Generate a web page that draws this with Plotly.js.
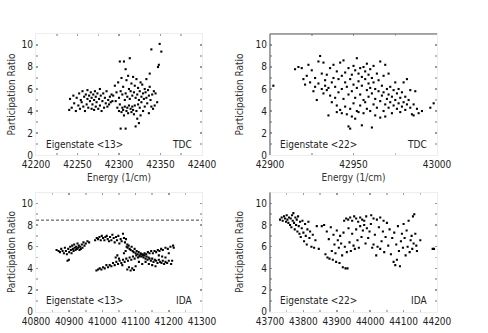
<!DOCTYPE html>
<html>
<head>
<meta charset="utf-8">
<script src="https://cdn.plot.ly/plotly-3.0.1.min.js"></script>
<style>
  html, body { margin: 0; padding: 0; background: #fff; }
  #gd { width: 488px; height: 333px; }
</style>
</head>
<body>
<div id="gd"></div>
<script>
"use strict";

/* data: [energy (1/cm), participation ratio] */
var tdcState13 = [
  [42240,4.1],[42241,5.1],[42243,4.3],[42245,5.4],[42246,4.7],[42248,4.0],[42249,5.2],[42251,4.5],
  [42252,5.6],[42253,4.2],[42254,5.0],[42255,4.8],[42256,5.8],[42257,4.4],[42258,5.3],[42259,4.0],
  [42260,5.5],[42261,4.6],[42262,5.9],[42262,5.1],[42263,4.3],[42264,5.4],[42265,4.9],[42266,5.7],
  [42267,4.2],[42267,5.2],[42268,4.6],[42269,5.5],[42270,4.1],[42270,5.0],[42271,5.8],[42272,4.4],
  [42272,5.3],[42273,4.8],[42274,5.6],[42275,4.2],[42276,5.1],[42277,4.5],[42277,6.0],[42278,5.4],
  [42279,4.0],[42280,4.9],[42281,5.6],[42282,4.3],[42283,5.2],[42284,4.7],[42285,5.8],[42286,4.4],
  [42287,5.0],[42288,4.6],[42289,5.3],[42290,4.8],[42291,5.5],[42292,4.9],
  [42293,5.4],[42295,6.3],[42296,4.9],[42297,5.7],[42298,4.3],[42299,6.6],[42300,4.0],[42300,5.2],
  [42301,8.5],[42301,4.6],[42302,2.4],[42302,5.8],[42303,3.9],[42303,7.0],[42304,4.3],[42304,5.5],
  [42305,6.2],[42305,4.1],[42306,3.6],[42306,8.5],[42307,5.0],[42307,4.4],[42308,7.8],[42308,2.4],
  [42308,5.6],[42309,4.0],[42309,6.8],[42310,4.3],[42310,5.3],[42311,3.8],[42311,7.2],[42312,4.5],
  [42312,6.0],[42313,5.1],[42313,8.8],[42314,4.2],[42314,5.8],[42315,3.9],[42315,6.5],[42316,4.4],
  [42316,5.4],[42317,7.1],[42317,4.1],[42318,5.7],[42318,3.7],[42319,6.3],[42319,4.5],[42320,5.2],
  [42320,2.6],[42321,4.0],[42321,6.9],[42322,5.5],[42322,3.3],[42323,4.6],[42323,6.1],[42324,5.0],
  [42324,2.9],[42325,4.3],[42325,5.8],[42326,6.6],[42326,3.6],[42327,5.3],[42327,4.8],[42328,6.4],
  [42329,5.6],[42329,4.0],[42330,5.1],[42331,6.0],[42331,4.4],[42332,5.7],[42333,6.9],[42333,5.2],
  [42334,4.7],[42335,5.9],[42336,5.4],[42336,3.8],[42337,6.2],[42337,7.4],[42338,5.0],[42339,4.4],
  [42339,9.6],[42340,5.5],[42341,4.2],[42342,5.8],[42343,4.5],[42344,5.6],[42346,4.8],[42347,8.0],
  [42349,10.1],[42351,9.4],[42348,8.2]
];

var tdcState22 = [
  [42902,6.3],[42915,7.8],[42917,8.0],[42919,7.9],[42920,6.9],[42921,6.4],[42922,7.2],[42923,8.2],
  [42924,6.6],[42925,7.7],[42926,5.8],[42927,6.2],[42927,7.0],[42928,5.0],[42929,8.5],[42929,6.5],
  [42930,9.0],[42931,7.4],[42931,6.0],[42932,8.4],[42932,5.6],[42933,6.8],[42933,6.3],[42934,7.3],
  [42934,5.9],[42935,3.6],[42935,6.1],[42936,7.9],[42936,5.4],[42937,6.6],[42937,4.8],[42938,8.2],
  [42938,7.0],[42939,5.2],[42939,6.2],[42940,3.9],[42940,7.6],[42940,4.5],[42941,6.9],[42941,5.7],
  [42942,8.4],[42942,4.1],[42943,7.2],[42943,6.0],[42943,3.8],[42944,8.6],[42944,5.1],[42945,6.6],
  [42945,4.4],[42945,7.5],[42946,3.7],[42946,6.2],[42947,7.9],[42947,5.5],[42947,2.6],[42948,4.2],
  [42948,6.9],[42948,2.4],[42949,7.3],[42949,3.5],[42949,5.8],[42950,8.1],[42950,4.7],[42950,6.4],
  [42951,3.3],[42951,7.7],[42951,5.2],[42952,8.8],[42952,6.1],[42952,4.0],[42953,7.4],[42953,3.9],
  [42953,6.7],[42954,5.5],[42954,7.9],[42954,4.5],[42955,2.7],[42955,6.3],[42955,7.1],[42956,5.0],
  [42956,8.0],[42956,3.8],[42957,6.9],[42957,4.8],[42957,7.6],[42958,5.9],[42958,4.2],[42958,8.3],
  [42959,6.5],[42959,5.3],[42959,7.3],[42960,4.0],[42960,7.8],[42960,6.1],[42961,2.5],[42961,5.6],
  [42961,7.0],[42962,4.6],[42962,6.6],[42962,8.1],[42963,5.1],[42963,3.6],[42963,6.0],[42964,7.4],
  [42964,4.3],[42965,5.8],[42965,6.8],[42966,8.5],[42966,4.9],[42966,3.4],[42967,5.4],[42967,6.3],
  [42968,4.0],[42968,7.2],[42968,5.7],[42969,3.5],[42969,8.2],[42969,4.6],[42970,6.0],[42970,5.1],
  [42971,4.3],[42971,7.4],[42971,5.5],[42972,4.8],[42972,6.2],[42973,3.8],[42973,5.3],[42974,4.5],
  [42974,5.9],[42975,5.0],[42975,6.6],[42976,4.2],[42976,5.6],[42977,4.7],[42977,6.0],[42978,5.2],
  [42978,3.9],[42979,4.4],[42979,5.7],[42980,6.6],[42980,4.8],[42981,5.3],[42981,4.1],[42982,6.9],
  [42982,4.6],[42983,5.0],[42984,4.3],[42984,5.9],[42985,3.7],[42986,4.6],[42986,3.6],[42987,5.8],
  [42988,4.2],[42989,3.8],[42991,4.0],[42996,4.3],[42998,4.7]
];

var idaState13 = [
  [40862,5.7],[40868,5.6],[40872,5.5],[40876,5.8],[40880,5.6],[40884,5.4],[40887,5.9],[40890,5.6],
  [40893,5.3],[40895,4.7],[40897,5.8],[40899,4.8],[40900,5.5],[40903,6.0],[40905,5.7],[40907,5.4],
  [40909,6.1],[40911,5.8],[40913,5.6],[40915,6.2],[40917,5.9],[40919,5.7],[40921,6.0],[40923,5.8],
  [40925,6.3],[40927,5.9],[40929,6.1],[40931,5.7],[40933,6.0],[40935,5.8],[40938,6.2],[40940,5.9],
  [40943,6.4],[40946,6.1],[40950,6.3],[40955,6.5],[40960,6.4],
  [40978,6.6],[40983,6.8],[40987,6.7],[40991,6.9],[40995,6.6],[40998,7.0],[41002,6.8],[41006,6.6],
  [41009,6.9],[41013,7.0],[41016,6.7],[41020,6.5],[41023,6.9],[41027,6.6],[41030,7.1],[41034,6.8],
  [41037,6.4],[41041,6.9],[41044,6.6],[41048,7.0],[41051,6.3],[41055,6.7],[41058,6.5],[41062,7.2],
  [41065,6.8],[41068,6.4],[41071,6.7],[41075,6.2],
  [41073,6.0],[41076,5.9],[41079,6.1],[41082,5.8],[41085,5.7],[41088,6.0],[41091,5.6],[41094,5.5],
  [41097,5.8],[41100,5.4],[41103,5.6],[41106,5.3],[41109,5.5],[41112,5.2],[41115,5.4],[41118,5.1],
  [41121,5.3],[41124,5.0],[41127,5.2],[41130,4.9],[41133,5.1],[41136,4.8],[41139,5.0],[41142,4.9],
  [41146,4.7],[41150,4.9],[41154,4.6],[41158,4.8],[41162,4.7],[41166,4.5],[41170,4.8],[41174,4.6],
  [41178,4.5],[41182,4.7],[41186,4.4],[41190,4.6],[41195,4.5],[41200,4.7],[41207,4.4],
  [40982,3.8],[40987,3.9],[40992,4.0],[40997,3.9],[41002,4.1],[41007,4.0],[41012,4.3],[41017,4.1],
  [41022,4.3],[41027,4.2],[41032,4.5],[41037,4.3],[41042,4.6],[41047,4.4],[41052,4.7],[41057,4.5],
  [41062,4.8],[41067,4.6],[41072,4.9],[41077,4.7],[41082,5.0],[41087,4.8],[41092,5.1],[41097,4.9],
  [41102,5.2],[41107,5.0],[41112,5.1],[41117,5.3],[41122,5.2],[41127,5.4],[41132,5.3],[41137,5.5],
  [41142,5.4],[41147,5.6],[41152,5.4],[41157,5.6],[41162,5.5],[41167,5.7],[41172,5.6],[41177,5.8],
  [41182,5.7],[41190,5.9],[41197,5.8],[41205,6.0],[41213,6.1],
  [41075,3.9],[41080,4.1],[41085,3.8],[41090,4.0],[41095,3.85],[41100,4.2],[41060,4.3],[41050,4.9],
  [41045,5.2],[41040,5.0],[41065,5.4],[41070,5.6],[41110,4.6],[41120,4.4],[41130,4.6],[41140,4.4],
  [41150,4.3],[41160,4.2],[41170,5.2],[41180,5.1],[41190,5.0],[41200,5.4],[41210,4.7],[41215,5.9]
];

var idaState22 = [
  [43730,8.5],[43735,8.7],[43738,8.4],[43742,8.8],[43745,8.6],[43748,8.3],[43750,8.9],[43752,8.5],
  [43755,8.2],[43757,8.7],[43760,8.0],[43762,8.6],[43764,7.8],[43766,8.9],[43768,8.4],[43770,9.1],
  [43772,8.2],[43774,7.6],[43776,8.7],[43778,8.0],[43780,8.5],[43782,7.4],[43784,8.8],[43786,7.9],
  [43788,7.2],[43790,8.3],[43792,6.9],[43795,7.7],[43797,8.4],[43800,7.3],[43802,6.5],[43805,8.1],
  [43807,7.0],[43810,6.2],[43812,7.6],[43815,8.3],[43818,6.8],[43820,7.4],[43824,6.0],[43828,7.1],
  [43832,5.9],[43836,6.6],[43840,7.9],[43846,5.8],
  [43922,8.4],[43928,8.6],[43934,8.5],[43940,8.7],[43946,8.4],[43952,8.8],[43958,8.6],[43964,8.3],
  [43970,8.7],[43976,8.5],[43982,8.4],[43988,8.8],[44003,8.9],[44010,8.6],[44020,8.5],[44030,8.7],
  [44040,8.4],
  [43855,7.9],[43862,8.0],[43866,5.3],[43870,7.4],[43872,5.0],[43876,6.7],[43878,4.9],[43882,7.8],
  [43885,5.6],[43888,4.8],[43890,7.1],[43893,6.2],[43896,5.4],[43898,4.6],[43900,7.5],[43903,6.6],
  [43906,5.9],[43908,4.5],[43910,7.0],[43913,6.3],[43916,5.2],[43918,4.1],[43920,7.3],[43924,6.0],
  [43926,4.0],[43930,5.5],[43932,4.0],[43935,7.7],[43938,6.4],[43942,5.6],[43946,7.2],[43950,6.1],
  [43954,5.8],[43958,7.6],[43962,6.6],[43966,5.9],[43970,7.9],[43974,6.9],[43978,7.5],[43982,8.0],
  [43986,6.3],[43990,7.7],[43994,6.8],[43998,7.4],[44002,8.1],[44006,5.9],[44010,6.2],[44014,7.1],
  [44018,5.2],[44022,6.0],[44026,7.8],[44030,5.8],[44034,6.5],[44038,7.4],[44042,5.5],[44046,6.9],
  [44050,8.2],[44054,6.1],[44058,7.6],[44062,5.3],[44066,6.8],[44070,4.6],[44072,7.3],[44075,4.3],
  [44078,6.2],[44080,4.8],[44083,7.9],[44086,5.6],[44089,4.2],[44092,6.5],[44095,7.2],[44098,5.9],
  [44100,8.1],[44103,6.8],[44106,5.2],[44109,7.5],[44112,6.0],[44115,8.4],[44118,5.5],[44121,6.6],
  [44124,7.0],[44126,5.8],[44128,8.8],[44130,6.3],[44132,9.0],[44135,7.2],[44138,6.1],[44140,5.6],
  [44150,6.6],[44187,5.8],[44191,5.8]
];

var idaLimit13 = 8.45;

var xRanges = [[42200, 42400], [42900, 43000], [40800, 41300], [43700, 44200]];
var xSteps = [50, 50, 100, 100];
var stateLabels = ["Eigenstate <13>", "Eigenstate <22>", "Eigenstate <13>", "Eigenstate <22>"];
var methodLabels = ["TDC", "TDC", "IDA", "IDA"];
var yTicks = [0, 2, 4, 6, 8, 10];

var font_family = "'Liberation Sans Narrow', 'DejaVu Sans Condensed', 'Liberation Sans', Arial, sans-serif";

function main()
{
	var gd = document.getElementById("gd");
	var sets = [tdcState13, tdcState22, idaState13, idaState22];

	var xDomains = [[0.0738, 0.4139], [0.5533, 0.8955], [0.0738, 0.4139], [0.5533, 0.8955]];
	var yDomains = [[0.5345, 0.8979], [0.5345, 0.8979], [0.064, 0.4219], [0.064, 0.4219]];

	var data = [];
	var layout = {
		width: 488,
		height: 333,
		margin: {l: 0, r: 0, t: 0, b: 0},
		paper_bgcolor: "#fff",
		plot_bgcolor: "#fff",
		showlegend: false,
		font: {family: font_family, size: 10, color: "#222"},
		shapes: [],
		annotations: []
	};

	var titleFont = {family: font_family, size: 10, color: "#333"};

	for (var i = 0; i < 4; i++) {
		var n = i === 0 ? "" : String(i + 1);
		var isTop = i < 2;
		var isRight = (i % 2) === 1;

		data.push({
			x: sets[i].map(function (p) { return p[0]; }),
			y: sets[i].map(function (p) { return p[1]; }),
			type: "scatter",
			mode: "markers",
			xaxis: "x" + n,
			yaxis: "y" + n,
			marker: {symbol: "square", size: 2.1, color: "#000", line: {width: 0}},
			hoverinfo: "skip"
		});

		var common = {
			showgrid: false,
			zeroline: false,
			showline: true,
			linecolor: "#eeeeee",
			linewidth: 1,
			mirror: "ticks",
			ticks: "inside",
			ticklen: 2,
			tickwidth: 1.5,
			tickcolor: "#9a9a9a",
			tickfont: {family: font_family, size: 10, color: "#222"},
			fixedrange: true
		};

		var xa = Object.assign({}, common, {
			domain: xDomains[i],
			anchor: "y" + n,
			range: xRanges[i],
			dtick: xSteps[i],
			tick0: xRanges[i][0],
			tickformat: "d",
			minor: {ticks: "inside", ticklen: 2, tickwidth: 1.5, tickcolor: "#bbbbbb", dtick: xSteps[i] / 2}
		});
		if (isTop) {
			xa.title = {text: "Energy (1/cm)", font: titleFont, standoff: 4};
		}
		var ya = Object.assign({}, common, {
			domain: yDomains[i],
			anchor: "x" + n,
			range: [0, 11],
			tickvals: yTicks,
			minor: {ticks: "inside", ticklen: 2, tickwidth: 1.5, tickcolor: "#bbbbbb", dtick: 1},
			title: {text: "Participation Ratio", font: titleFont, standoff: isRight ? 10 : 4}
		});
		layout["xaxis" + n] = xa;
		layout["yaxis" + n] = ya;

		/* lower x titles sit at the page edge and get clipped, as in the original */
		if (!isTop) {
			layout.annotations.push({
				xref: "x" + n + " domain", yref: "paper",
				x: 0.5, y: -0.014, xanchor: "center", yanchor: "middle",
				text: "Energy (1/cm)", showarrow: false, font: titleFont
			});
		}

		layout.annotations.push({
			xref: "x" + n + " domain", yref: "y" + n + " domain",
			x: 0.05, y: 0.09, xanchor: "left", yanchor: "middle",
			text: stateLabels[i], showarrow: false,
			font: {family: font_family, size: 10, color: "#222"}
		});
		layout.annotations.push({
			xref: "x" + n + " domain", yref: "y" + n + " domain",
			x: 0.95, y: 0.09, xanchor: "right", yanchor: "middle",
			text: methodLabels[i], showarrow: false,
			font: {family: font_family, size: 10, color: "#222"}
		});
	}

	/* solid frame pieces on the right hand panels */
	layout.shapes.push({type: "line", xref: "x2 domain", yref: "y2 domain", x0: 0, x1: 0, y0: 0, y1: 1,
		line: {color: "#555", width: 1}});
	layout.shapes.push({type: "line", xref: "x2 domain", yref: "y2 domain", x0: 0, x1: 1, y0: 1, y1: 1,
		line: {color: "#555", width: 1}});
	layout.shapes.push({type: "line", xref: "x4 domain", yref: "y4 domain", x0: 0, x1: 0, y0: 0, y1: 1,
		line: {color: "#444", width: 1}});

	/* dashed level in the IDA <13> panel */
	layout.shapes.push({type: "line", xref: "x3 domain", yref: "y3", x0: 0, x1: 1, y0: idaLimit13, y1: idaLimit13,
		line: {color: "#444", width: 1, dash: "3px,2px"}});

	Plotly.newPlot(gd, data, layout, {staticPlot: true, displayModeBar: false});
}

main();
</script>
</body>
</html>
